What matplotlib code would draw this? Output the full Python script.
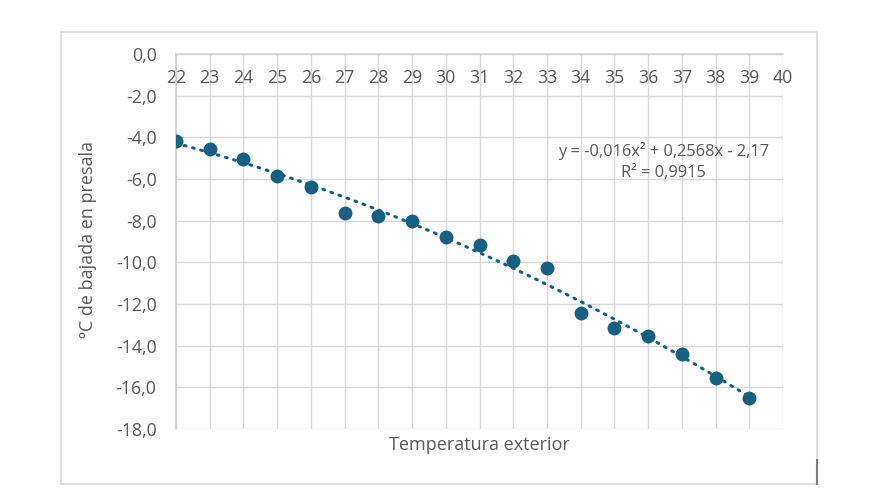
import numpy as np
import matplotlib.pyplot as plt
from matplotlib.patches import Rectangle
from matplotlib.lines import Line2D

# data
temp_ext = [22, 23, 24, 25, 26, 27, 28, 29, 30, 31, 32, 33, 34, 35, 36, 37, 38, 39]
bajada = [-4.18, -4.56, -5.02, -5.86, -6.38, -7.63, -7.78, -8.02, -8.78, -9.17,
          -9.94, -10.27, -12.43, -13.15, -13.52, -14.40, -15.54, -16.50]
x_ticks = list(range(22, 41))
y_ticks = [0, -2, -4, -6, -8, -10, -12, -14, -16, -18]
eq_text = "y = -0,016x² + 0,2568x - 2,17"
r2_text = "R² = 0,9915"

plt.rcParams['font.family'] = ['Open Sans', 'DejaVu Sans']
gray_txt = '#595959'
grid_col = '#D9D9D9'
blue = '#155F82'

fig = plt.figure(figsize=(8.75, 5), dpi=100)
ax = fig.add_axes([176 / 875, 1 - 429 / 500, (783 - 176) / 875, (429 - 54) / 500])

# outer chart frame
fig.patches.append(Rectangle((61 / 875, 1 - 484 / 500), (817 - 61) / 875, (484 - 32) / 500,
                             transform=fig.transFigure, fill=False, edgecolor=grid_col, lw=1.2))
fig.lines.append(Line2D([817 / 875, 817 / 875], [1 - 484 / 500, 1 - 460 / 500],
                        transform=fig.transFigure, color='#7F7F7F', lw=1.5))

# polynomial trendline (order 2)
coef = np.polyfit(temp_ext, bajada, 2)
xs = np.linspace(temp_ext[0], temp_ext[-1], 200)
ax.plot(xs, np.polyval(coef, xs), color=blue, lw=2.2, linestyle=(0, (0.6, 2.2)),
        dash_capstyle='round', zorder=2)
ax.scatter(temp_ext, bajada, s=100, color=blue, zorder=3, linewidths=0)

ax.set_xlim(22, 40)
ax.set_ylim(-18, 0)
ax.set_xticks(x_ticks)
ax.set_yticks(y_ticks)
ax.set_yticklabels([f"{v:.1f}".replace('.', ',') for v in y_ticks])
ax.grid(True, color=grid_col, lw=1)
ax.set_axisbelow(True)
for s in ['right', 'bottom']:
    ax.spines[s].set_visible(False)
for s in ['left', 'top']:
    ax.spines[s].set_color('#CFCFCF')
    ax.spines[s].set_linewidth(1.2)

ax.tick_params(axis='x', top=True, labeltop=True, bottom=False, labelbottom=False,
               length=0, pad=-24, labelsize=12.8, labelcolor=gray_txt)
ax.tick_params(axis='y', length=0, pad=14, labelsize=12.8, labelcolor=gray_txt)

ax.set_ylabel("ºC de bajada en presala", fontsize=13, color=gray_txt)
ax.yaxis.set_label_coords((97 - 176) / 607, 0.505)
ax.set_xlabel("Temperatura exterior", fontsize=13, color=gray_txt, labelpad=5)

ax.text(0.803, 0.742, eq_text, transform=ax.transAxes, ha='center', va='center',
        fontsize=11.8, color=gray_txt)
ax.text(0.803, 0.683, r2_text, transform=ax.transAxes, ha='center', va='center',
        fontsize=11.8, color=gray_txt)

fig.savefig("out.png", dpi=100)
